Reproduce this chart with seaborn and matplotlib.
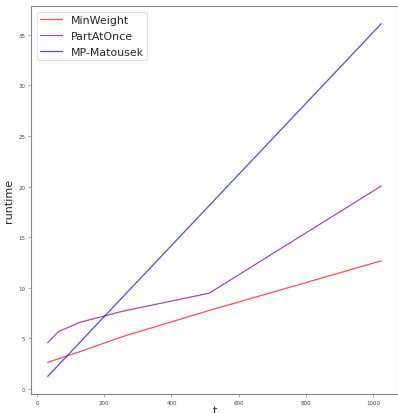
import numpy as np
import pandas as pd
import matplotlib
matplotlib.use("Agg")
import matplotlib.pyplot as plt
import seaborn as sns

sns.set_style("ticks")
plt.rcParams['font.family'] = ['DejaVu Sans']

t_values = [32, 64, 128, 256, 512, 1024]
min_weight = [2.64, 3.0, 3.7, 5.2, 7.76, 12.67]
part_at_once = [4.59, 5.68, 6.6, 7.7, 9.47, 20.07]
mp_matousek = [1.26, 2.38, 4.63, 9.13, 18.12, 36.1]

methods = ['MinWeight', 'PartAtOnce', 'MP-Matousek']
colors = ['red', 'purple', 'blue']

df = pd.DataFrame({
    't': t_values * 3,
    'runtime': min_weight + part_at_once + mp_matousek,
    'method': [m for m in methods for _ in t_values],
})

fig = plt.figure(figsize=(3.98, 4.14), dpi=100)
ax = fig.add_axes([0.078, 0.046, 0.922, 0.937])
sns.lineplot(data=df, x='t', y='runtime', hue='method', hue_order=methods,
             palette=colors, linewidth=0.9, alpha=0.7, ax=ax)

for side in ['left', 'bottom', 'top', 'right']:
    ax.spines[side].set_color('#888888')
    ax.spines[side].set_linewidth(0.8)
ax.tick_params(labelsize=4, length=2, width=0.5, color='#888888', labelcolor='#444444', pad=2)
ax.set_xlabel('t', fontsize=8, labelpad=0)
ax.set_ylabel('runtime', fontsize=8, labelpad=3)
ax.set_xticks([0, 200, 400, 600, 800, 1000])
ax.set_yticks([0, 5, 10, 15, 20, 25, 30, 35])

leg = ax.legend(fontsize=7.9, loc='upper left', handlelength=2.0, labelspacing=0.55,
                borderpad=0.3, handletextpad=0.8, frameon=True)
leg.get_frame().set_linewidth(0.5)

fig.savefig('out.png', dpi=100)
